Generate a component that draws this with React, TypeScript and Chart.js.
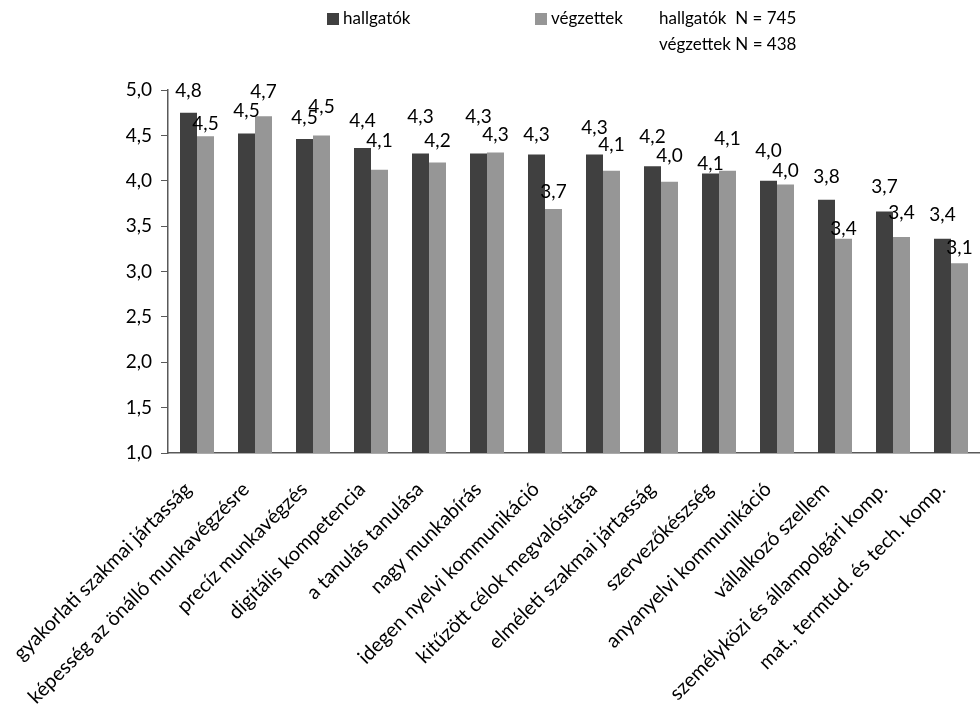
import React, { useEffect, useRef } from 'react';
import { Chart, registerables } from 'chart.js';

Chart.register(...registerables);

const categories = [
  'gyakorlati szakmai jártasság',
  'képesség az önálló munkavégzésre',
  'precíz munkavégzés',
  'digitális kompetencia',
  'a tanulás tanulása',
  'nagy munkabírás',
  'idegen nyelvi kommunikáció',
  'kitűzött célok megvalósítása',
  'elméleti szakmai jártasság',
  'szervezőkészség',
  'anyanyelvi kommunikáció',
  'vállalkozó szellem',
  'személyközi és állampolgári komp.',
  'mat., termtud. és tech. komp.',
];

const hallgatok = [4.75, 4.52, 4.46, 4.36, 4.3, 4.3, 4.29, 4.29, 4.16, 4.08, 4.0, 3.79, 3.66, 3.36];
const vegzettek = [4.49, 4.71, 4.5, 4.12, 4.2, 4.31, 3.69, 4.11, 3.99, 4.11, 3.96, 3.36, 3.38, 3.09];

const seriesNames = ['hallgatók', 'végzettek'];
const sampleNotes = ['hallgatók  N = 745', 'végzettek N = 438'];

const yMin = 1;
const yMax = 5;
const yStep = 0.5;

// vertical lift (px) of each value label above its bar top, as placed in the original
const hallgatokLabelLift = [22, 23, 21, 27, 37, 37, 20, 27, 29, 10, 30, 23, 25, 24];
const vegzettekLabelLift = [12, 24, 29, 29, 22, 18, 17, 26, 26, 32, 14, 10, 24, 15];

const DARK = '#404040';
const GRAY = '#969696';
const AXIS = '#595959';
const FONT = 'Lato, "Open Sans", sans-serif';
const LEGEND_SIZE = 17;
const VALUE_SIZE = 19;
const XLABEL_SIZE = 20;

const fmt = (v: number) => (Math.round(v * 10) / 10).toFixed(1).replace('.', ',');

const legendPlugin = {
  id: 'customLegend',
  afterDraw(chart: any) {
    const ctx = chart.ctx;
    ctx.save();
    ctx.font = `${LEGEND_SIZE}px ${FONT}`;
    ctx.textBaseline = 'middle';
    ctx.textAlign = 'left';
    const items = [
      { x: 327, color: DARK, text: seriesNames[0] },
      { x: 535, color: GRAY, text: seriesNames[1] },
    ];
    items.forEach((it) => {
      ctx.fillStyle = it.color;
      ctx.fillRect(it.x, 13, 12, 12);
      ctx.fillStyle = '#000';
      ctx.fillText(it.text, it.x + 16, 19);
    });
    ctx.fillStyle = '#000';
    ctx.fillText(sampleNotes[0], 659, 19);
    ctx.fillText(sampleNotes[1], 659, 45);
    ctx.restore();
  },
};

const valueLabelPlugin = {
  id: 'valueLabels',
  afterDatasetsDraw(chart: any) {
    const ctx = chart.ctx;
    const lifts = [hallgatokLabelLift, vegzettekLabelLift];
    ctx.save();
    ctx.font = `${VALUE_SIZE}px ${FONT}`;
    ctx.fillStyle = '#000';
    ctx.textAlign = 'center';
    ctx.textBaseline = 'middle';
    chart.data.datasets.forEach((ds: any, di: number) => {
      const meta = chart.getDatasetMeta(di);
      meta.data.forEach((bar: any, i: number) => {
        ctx.fillText(fmt(ds.data[i]), bar.x, bar.y - lifts[di][i]);
      });
    });
    ctx.restore();
  },
};

const xLabelPlugin = {
  id: 'rotatedXLabels',
  afterDraw(chart: any) {
    const ctx = chart.ctx;
    const xs = chart.scales.x;
    const axisY = chart.chartArea.bottom;
    ctx.save();
    ctx.font = `${XLABEL_SIZE}px ${FONT}`;
    ctx.fillStyle = '#000';
    ctx.textAlign = 'right';
    ctx.textBaseline = 'middle';
    chart.data.labels.forEach((lab: string, i: number) => {
      const x = xs.getPixelForTick(i);
      ctx.save();
      ctx.translate(x - 9, axisY + 33);
      ctx.rotate(-Math.PI / 4);
      ctx.fillText(lab, 0, 0);
      ctx.restore();
    });
    ctx.restore();
  },
};

export default function App() {
  const ref = useRef<HTMLCanvasElement | null>(null);

  useEffect(() => {
    if (!ref.current) return;
    const chart = new Chart(ref.current, {
      type: 'bar',
      data: {
        labels: categories,
        datasets: [
          {
            label: seriesNames[0],
            data: hallgatok,
            backgroundColor: DARK,
            categoryPercentage: 0.586,
            barPercentage: 1,
          },
          {
            label: seriesNames[1],
            data: vegzettek,
            backgroundColor: GRAY,
            categoryPercentage: 0.586,
            barPercentage: 1,
          },
        ],
      },
      options: {
        responsive: false,
        animation: false,
        devicePixelRatio: 1,
        layout: { padding: { top: 90, right: 0, left: 0, bottom: 0 } },
        plugins: {
          legend: { display: false },
          tooltip: { enabled: false },
        },
        scales: {
          x: {
            offset: true,
            grid: { display: true, drawOnChartArea: false, drawTicks: false, color: AXIS },
            border: { display: true, color: AXIS, width: 1.5 },
            ticks: { display: false, autoSkip: false },
            afterFit: (scale: any) => {
              scale.height = 254;
            },
          },
          y: {
            min: yMin,
            max: yMax,
            grid: { display: true, drawOnChartArea: false, drawTicks: true, tickLength: 7, color: AXIS },
            border: { display: true, color: AXIS, width: 1.5 },
            ticks: {
              stepSize: yStep,
              padding: 9,
              color: '#000',
              font: { family: FONT, size: VALUE_SIZE },
              callback: (v: any) => fmt(Number(v)),
            },
            afterFit: (scale: any) => {
              scale.width = 168;
            },
          },
        },
      },
      plugins: [legendPlugin, valueLabelPlugin, xLabelPlugin],
    });
    return () => chart.destroy();
  }, []);

  return (
    <div style={{ position: 'absolute', left: 0, top: 0, width: 980, height: 707, background: '#fff' }}>
      <canvas ref={ref} width={980} height={707} style={{ display: 'block' }} />
    </div>
  );
}
